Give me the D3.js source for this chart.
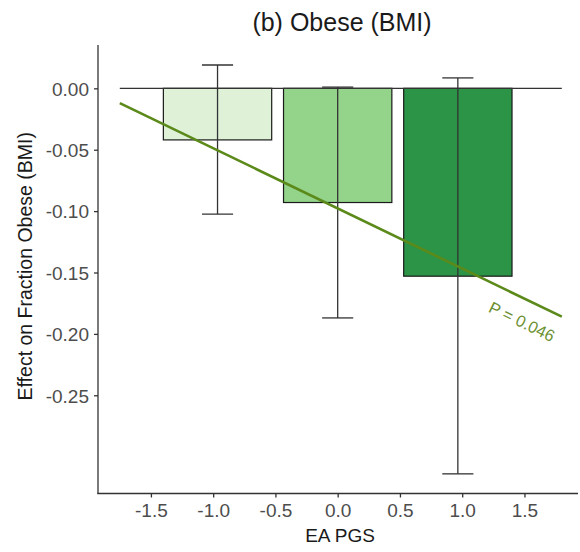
<!DOCTYPE html>
<html><head><meta charset="utf-8">
<script src="https://cdn.jsdelivr.net/npm/d3@7"></script>
<style>body{margin:0;background:#fff}svg{display:block}text{font-family:"Liberation Sans",Arial,sans-serif}</style>
</head><body><svg id="c" width="580" height="552"></svg>
<script>
const groups = ["Low", "Mid", "High"];
const barX = [-0.965, 0, 0.965];
const barValues = [-0.042, -0.093, -0.153];
const ciLow = [-0.1025, -0.187, -0.314];
const ciHigh = [0.019, 0.001, 0.0085];
const barColors = ["#dff2d8", "#93d38a", "#2b9447"];
const trendX = [-1.75, 1.80];
const trendY = [-0.012, -0.186];
const refX = [-1.75, 1.80];
const xTicks = [-1.5, -1.0, -0.5, 0.0, 0.5, 1.0, 1.5];
const yTicks = [0.00, -0.05, -0.10, -0.15, -0.20, -0.25];
const pLabel = "P = 0.046";

const svg = d3.select("#c");
const L = 98, R = 578, T = 45, B = 493.5;
const x = d3.scaleLinear().domain([-1.925, 1.93]).range([L, R]);
const y = d3.scaleLinear().domain([0.0353, -0.330]).range([T, B]);
const barW = 0.87, capW = 0.25;
const axisCol = "#333", txtCol = "#4d4d4d";
const hy = s => s.replace("\u2212", "-");

// bars
svg.append("g").selectAll("rect").data(barValues).join("rect")
  .attr("x", (d,i) => x(barX[i] - barW/2))
  .attr("width", x(barW) - x(0))
  .attr("y", d => y(Math.max(0,d)))
  .attr("height", d => Math.abs(y(d) - y(0)))
  .attr("fill", (d,i) => barColors[i])
  .attr("stroke", "#1a1a1a").attr("stroke-width", 1.2);

// zero reference line
svg.append("line")
  .attr("x1", x(refX[0])).attr("x2", x(refX[1]))
  .attr("y1", y(0)).attr("y2", y(0))
  .attr("stroke", "#333").attr("stroke-width", 1.3);

// error bars
const eb = svg.append("g").attr("stroke", "#333").attr("stroke-width", 1.3);
barX.forEach((bx, i) => {
  eb.append("line").attr("x1", x(bx)).attr("x2", x(bx)).attr("y1", y(ciHigh[i])).attr("y2", y(ciLow[i]));
  [ciHigh[i], ciLow[i]].forEach(v => {
    eb.append("line").attr("x1", x(bx - capW/2)).attr("x2", x(bx + capW/2)).attr("y1", y(v)).attr("y2", y(v));
  });
});

// trend line
svg.append("line")
  .attr("x1", x(trendX[0])).attr("y1", y(trendY[0]))
  .attr("x2", x(trendX[1])).attr("y2", y(trendY[1]))
  .attr("stroke", "#5b8a1a").attr("stroke-width", 2.6);

// P label
const ang = Math.atan2(y(trendY[1]) - y(trendY[0]), x(trendX[1]) - x(trendX[0])) * 180 / Math.PI;
svg.append("text").text(pLabel)
  .attr("transform", `translate(${x(1.46)},${y(-0.1865) + 9.5}) rotate(${ang})`)
  .attr("text-anchor", "middle").attr("font-size", 16.5).attr("fill", "#6b9030");

// axes
const xa = svg.append("g").attr("transform", `translate(0,${B})`)
  .call(d3.axisBottom(x).tickValues(xTicks).tickFormat(d => hy(d3.format(".1f")(d))).tickSizeOuter(0).tickSize(4));
const ya = svg.append("g").attr("transform", `translate(${L},0)`)
  .call(d3.axisLeft(y).tickValues(yTicks).tickFormat(d => hy(d3.format(".2f")(d))).tickSizeOuter(0).tickSize(4));
[xa, ya].forEach(g => {
  g.select(".domain").attr("stroke", axisCol).attr("stroke-width", 1.3);
  g.selectAll(".tick line").attr("stroke", axisCol).attr("stroke-width", 1.3);
  g.selectAll(".tick text").attr("fill", txtCol).attr("font-size", 19).attr("font-family", "Liberation Sans, Arial, sans-serif");
});
xa.selectAll(".tick text").attr("y", 23.5).attr("dy", 0);
ya.selectAll(".tick text").attr("x", -9).attr("dy", "0.36em");
// extend domain lines to meet at corner
xa.select(".domain").attr("d", `M${L - 0.6},0H${R}`);
ya.select(".domain").attr("d", `M0,${T}V${B + 0.6}`);

// titles
svg.append("text").text("(b) Obese (BMI)").attr("x", 342).attr("y", 31)
  .attr("text-anchor", "middle").attr("font-size", 25).attr("fill", "#1a1a1a");
svg.append("text").text("EA PGS").attr("x", (L + R)/2 + 2).attr("y", 542)
  .attr("text-anchor", "middle").attr("font-size", 19).attr("fill", "#1a1a1a");
svg.append("text").text("Effect on Fraction Obese (BMI)")
  .attr("transform", `translate(31.5,${(T + B)/2 - 3}) rotate(-90)`)
  .attr("text-anchor", "middle").attr("font-size", 19.5).attr("fill", "#1a1a1a");
</script></body></html>
